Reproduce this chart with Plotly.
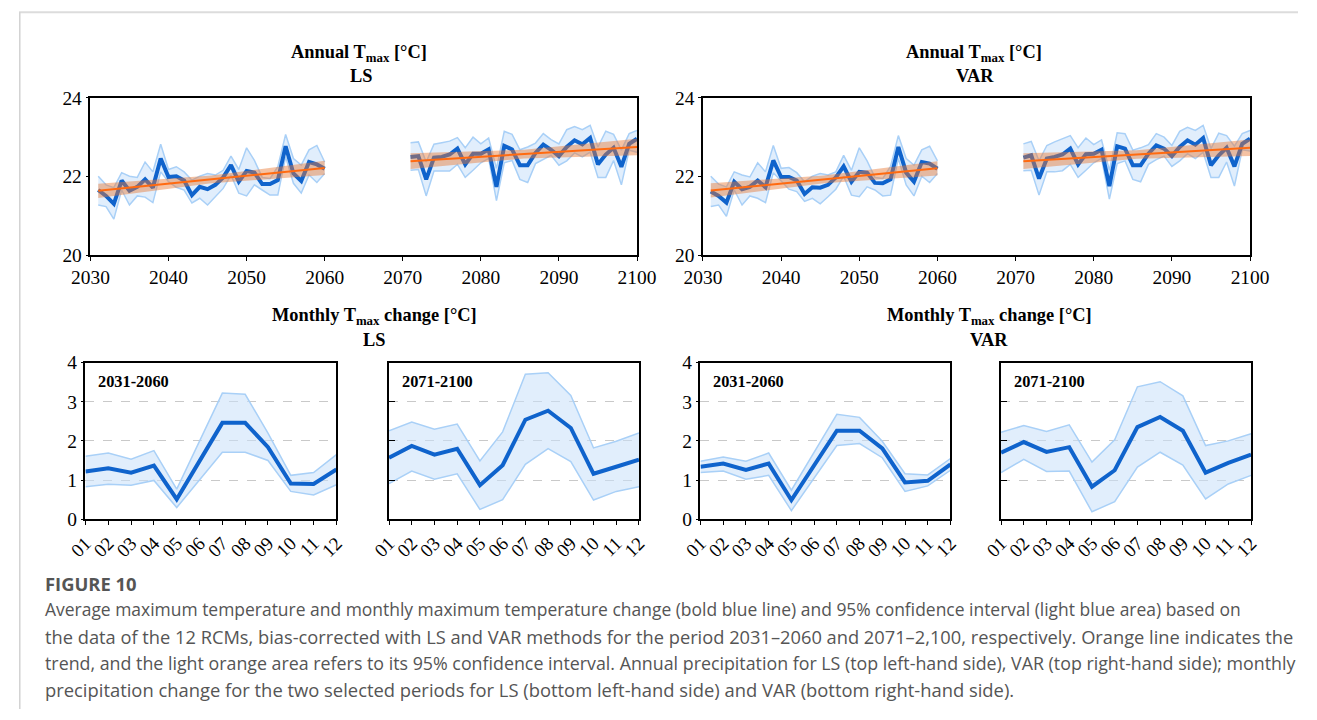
import plotly.graph_objects as go

W, H = 1317, 720

# ---------------- data ----------------
years_p1 = list(range(2031, 2061))
years_p2 = list(range(2071, 2101))

# Annual Tmax, LS bias correction
ls_mean_p1 = [21.66, 21.51, 21.31, 21.90, 21.64, 21.74, 21.93, 21.72, 22.46, 21.99,
              22.01, 21.90, 21.53, 21.74, 21.68, 21.79, 21.98, 22.29, 21.87, 22.14,
              22.10, 21.81, 21.81, 21.91, 22.77, 22.08, 21.89, 22.37, 22.31, 22.20]
ls_hi_p1 = [22.01, 21.79, 21.72, 22.10, 22.01, 21.98, 22.37, 22.12, 22.82, 22.18,
            22.25, 22.12, 21.91, 22.01, 22.08, 22.04, 22.16, 22.52, 22.18, 22.73,
            22.41, 21.98, 21.95, 22.25, 23.07, 22.46, 22.29, 22.68, 22.79, 22.37]
ls_lo_p1 = [21.28, 21.24, 20.92, 21.66, 21.28, 21.51, 21.48, 21.34, 22.12, 21.87,
            21.73, 21.66, 21.33, 21.45, 21.28, 21.49, 21.70, 22.04, 21.58, 21.51,
            21.79, 21.66, 21.53, 21.53, 22.50, 21.83, 21.58, 22.04, 21.85, 22.08]
ls_mean_p2 = [22.50, 22.52, 21.93, 22.48, 22.50, 22.56, 22.71, 22.31, 22.58, 22.58,
              22.69, 21.74, 22.78, 22.69, 22.29, 22.29, 22.60, 22.81, 22.68, 22.52,
              22.75, 22.92, 22.82, 22.98, 22.31, 22.56, 22.73, 22.25, 22.83, 22.96]
ls_hi_p2 = [22.86, 22.88, 22.37, 22.82, 22.86, 22.90, 22.99, 22.73, 23.00, 22.83,
            22.98, 22.21, 23.15, 23.07, 22.68, 22.75, 22.85, 23.09, 22.94, 22.83,
            23.19, 23.27, 23.19, 23.30, 22.75, 23.15, 23.07, 22.67, 23.09, 23.17]
ls_lo_p2 = [22.16, 22.18, 21.51, 22.14, 22.14, 22.14, 22.31, 21.98, 22.16, 22.35,
            22.46, 21.39, 22.35, 22.41, 21.93, 21.85, 22.33, 22.43, 22.54, 22.29,
            22.40, 22.60, 22.50, 22.62, 21.98, 21.98, 22.41, 21.79, 22.67, 22.62]

# Annual Tmax, VAR bias correction
var_mean_p1 = [21.62, 21.51, 21.34, 21.87, 21.68, 21.74, 21.90, 21.73, 22.41, 21.99,
               21.99, 21.90, 21.56, 21.73, 21.72, 21.79, 21.98, 22.26, 21.87, 22.12,
               22.10, 21.84, 21.83, 21.93, 22.75, 22.10, 21.87, 22.37, 22.33, 22.20]
var_hi_p1 = [22.01, 21.81, 21.74, 22.12, 22.04, 21.99, 22.35, 22.12, 22.79, 22.21,
             22.23, 22.10, 21.87, 22.01, 22.08, 22.04, 22.12, 22.54, 22.16, 22.73,
             22.40, 21.98, 21.95, 22.26, 23.04, 22.46, 22.29, 22.68, 22.77, 22.40]
var_lo_p1 = [21.24, 21.28, 20.99, 21.66, 21.28, 21.51, 21.45, 21.34, 22.10, 21.90,
             21.68, 21.62, 21.37, 21.45, 21.31, 21.49, 21.68, 22.01, 21.53, 21.49,
             21.74, 21.66, 21.51, 21.53, 22.46, 21.79, 21.51, 22.01, 21.85, 22.08]
var_mean_p2 = [22.48, 22.54, 21.95, 22.46, 22.50, 22.56, 22.71, 22.31, 22.57, 22.58,
               22.68, 21.76, 22.77, 22.71, 22.29, 22.29, 22.58, 22.79, 22.71, 22.52,
               22.75, 22.92, 22.81, 22.98, 22.29, 22.54, 22.73, 22.26, 22.83, 22.96]
var_hi_p2 = [22.83, 22.89, 22.40, 22.79, 22.88, 22.96, 23.04, 22.73, 22.98, 22.81,
             22.93, 22.16, 23.11, 23.09, 22.67, 22.73, 22.81, 23.09, 23.00, 22.79,
             23.15, 23.25, 23.17, 23.30, 22.71, 23.10, 23.04, 22.77, 23.09, 23.17]
var_lo_p2 = [22.15, 22.16, 21.53, 22.12, 22.12, 22.15, 22.31, 21.98, 22.16, 22.35,
             22.46, 21.43, 22.33, 22.40, 21.93, 21.87, 22.31, 22.43, 22.52, 22.26,
             22.40, 22.58, 22.46, 22.62, 21.98, 21.98, 22.37, 21.76, 22.68, 22.65]

# Linear trend and its 95% band (start, middle, end of each period)
trend_x_p1 = [2031, 2045.5, 2060]
trend_x_p2 = [2071, 2085.5, 2100]
ls_trend_p1 = [21.64, 21.93, 22.22]
ls_trend_lo_p1 = [21.46, 21.83, 22.04]
ls_trend_hi_p1 = [21.82, 22.03, 22.40]
ls_trend_p2 = [22.39, 22.57, 22.75]
ls_trend_lo_p2 = [22.19, 22.46, 22.54]
ls_trend_hi_p2 = [22.59, 22.68, 22.96]
var_trend_p1 = [21.65, 21.93, 22.21]
var_trend_lo_p1 = [21.47, 21.83, 22.03]
var_trend_hi_p1 = [21.83, 22.03, 22.39]
var_trend_p2 = [22.39, 22.56, 22.73]
var_trend_lo_p2 = [22.19, 22.45, 22.52]
var_trend_hi_p2 = [22.59, 22.67, 22.94]

# Monthly Tmax change
months = ["01", "02", "03", "04", "05", "06", "07", "08", "09", "10", "11", "12"]
ls_m1_mean = [1.22, 1.30, 1.19, 1.37, 0.51, 1.49, 2.46, 2.46, 1.84, 0.91, 0.90, 1.27]
ls_m1_hi = [1.61, 1.69, 1.53, 1.75, 0.77, 2.00, 3.22, 3.19, 2.20, 1.12, 1.19, 1.65]
ls_m1_lo = [0.83, 0.89, 0.87, 0.99, 0.30, 1.01, 1.71, 1.71, 1.50, 0.71, 0.62, 0.88]
ls_m2_mean = [1.57, 1.87, 1.65, 1.80, 0.87, 1.38, 2.54, 2.77, 2.33, 1.16, 1.34, 1.52]
ls_m2_hi = [2.26, 2.48, 2.30, 2.43, 1.49, 2.23, 3.70, 3.74, 3.16, 1.82, 1.99, 2.20]
ls_m2_lo = [0.91, 1.23, 1.02, 1.16, 0.25, 0.50, 1.40, 1.80, 1.47, 0.49, 0.71, 0.83]
var_m1_mean = [1.34, 1.42, 1.26, 1.42, 0.49, 1.39, 2.26, 2.26, 1.81, 0.94, 0.98, 1.40]
var_m1_hi = [1.48, 1.59, 1.48, 1.69, 0.74, 1.71, 2.68, 2.60, 1.99, 1.16, 1.13, 1.55]
var_m1_lo = [1.19, 1.23, 1.02, 1.12, 0.22, 1.05, 1.88, 1.93, 1.57, 0.71, 0.85, 1.25]
var_m2_mean = [1.70, 1.97, 1.72, 1.84, 0.83, 1.25, 2.35, 2.61, 2.26, 1.19, 1.44, 1.65]
var_m2_hi = [2.22, 2.39, 2.24, 2.41, 1.46, 2.03, 3.38, 3.51, 3.15, 1.88, 2.00, 2.18]
var_m2_lo = [1.19, 1.53, 1.22, 1.23, 0.19, 0.45, 1.33, 1.71, 1.38, 0.52, 0.90, 1.12]

# ---------------- styling ----------------
BLUE = "#0f63cc"
BAND_EDGE = "#a9d0f7"
BAND_FILL = "rgba(200,224,250,0.55)"
ORANGE = "#ff6a10"
ORANGE_FILL = "rgba(232,120,50,0.45)"
SERIF = "Liberation Serif"
SANS = "Open Sans"

# positions below are given on a 1317x720 design grid; the page frame maps that
# grid with a small inset, so positions and font sizes go through these helpers
S, OX, OY = 0.979, 12.0, 8.5


def fx(v):
    return (v - OX) / S / W


def fy(v):
    return 1 - (v - OY) / S / H


def fs(size):
    return round(size / S, 2)


def dom_x(a, b):
    return [fx(a), fx(b)]


def dom_y(top, bottom):
    return [fy(bottom), fy(top)]


fig = go.Figure()


def add_band(x, lo, hi, xa, ya):
    fig.add_trace(go.Scatter(x=x, y=lo, mode="lines", line=dict(color=BAND_EDGE, width=1.5),
                             xaxis=xa, yaxis=ya, showlegend=False, hoverinfo="skip"))
    fig.add_trace(go.Scatter(x=x, y=hi, mode="lines", line=dict(color=BAND_EDGE, width=1.5),
                             fill="tonexty", fillcolor=BAND_FILL,
                             xaxis=xa, yaxis=ya, showlegend=False, hoverinfo="skip"))


def add_mean(x, y, xa, ya):
    fig.add_trace(go.Scatter(x=x, y=y, mode="lines", line=dict(color=BLUE, width=4),
                             xaxis=xa, yaxis=ya, showlegend=False))


def add_trend(x, c, lo, hi, xa, ya):
    fig.add_trace(go.Scatter(x=x, y=lo, mode="lines", line=dict(width=0),
                             xaxis=xa, yaxis=ya, showlegend=False, hoverinfo="skip"))
    fig.add_trace(go.Scatter(x=x, y=hi, mode="lines", line=dict(width=0),
                             fill="tonexty", fillcolor=ORANGE_FILL,
                             xaxis=xa, yaxis=ya, showlegend=False, hoverinfo="skip"))
    fig.add_trace(go.Scatter(x=x, y=c, mode="lines", line=dict(color=ORANGE, width=2),
                             xaxis=xa, yaxis=ya, showlegend=False))


# annual panels
annual = [
    ("x", "y", (ls_lo_p1, ls_hi_p1, ls_mean_p1, ls_trend_p1, ls_trend_lo_p1, ls_trend_hi_p1),
     (ls_lo_p2, ls_hi_p2, ls_mean_p2, ls_trend_p2, ls_trend_lo_p2, ls_trend_hi_p2)),
    ("x2", "y2", (var_lo_p1, var_hi_p1, var_mean_p1, var_trend_p1, var_trend_lo_p1, var_trend_hi_p1),
     (var_lo_p2, var_hi_p2, var_mean_p2, var_trend_p2, var_trend_lo_p2, var_trend_hi_p2)),
]
for xa, ya, p1, p2 in annual:
    for yrs, tx, (lo, hi, mean, tr, tlo, thi) in ((years_p1, trend_x_p1, p1), (years_p2, trend_x_p2, p2)):
        add_band(yrs, lo, hi, xa, ya)
        add_mean(yrs, mean, xa, ya)
        add_trend(tx, tr, tlo, thi, xa, ya)

# monthly panels
monthly = [
    ("x3", "y3", ls_m1_lo, ls_m1_hi, ls_m1_mean),
    ("x4", "y4", ls_m2_lo, ls_m2_hi, ls_m2_mean),
    ("x5", "y5", var_m1_lo, var_m1_hi, var_m1_mean),
    ("x6", "y6", var_m2_lo, var_m2_hi, var_m2_mean),
]
for xa, ya, lo, hi, mean in monthly:
    add_band(months, lo, hi, xa, ya)
    add_mean(months, mean, xa, ya)

frame = dict(showline=True, mirror=True, linecolor="black", linewidth=1.5,
             zeroline=False, color="black")
tick_font = dict(family=SERIF, size=fs(19), color="black")

layout = dict(
    width=W, height=H, margin=dict(l=0, r=0, t=0, b=0),
    paper_bgcolor="white", plot_bgcolor="white", showlegend=False,
)

top_x = dict(range=[2030, 2100], tickvals=[2030, 2040, 2050, 2060, 2070, 2080, 2090, 2100],
             ticks="outside", ticklen=4, tickfont=tick_font, showgrid=False, **frame)
top_y = dict(range=[20, 24], tickvals=[20, 22, 24], ticks="outside", ticklen=3,
             tickfont=tick_font, showgrid=False, **frame)

layout["xaxis"] = dict(domain=dom_x(84, 635), anchor="y", **top_x)
layout["yaxis"] = dict(domain=dom_y(97, 256), anchor="x", **top_y)
layout["xaxis2"] = dict(domain=dom_x(701.5, 1253), anchor="y2", **top_x)
layout["yaxis2"] = dict(domain=dom_y(97, 256), anchor="x2", **top_y)

month_x = dict(type="category", range=[0, 11], tickangle=-45, ticks="outside", ticklen=4,
               tickmode="array", tickvals=months, ticktext=months,
               tickfont=dict(family=SERIF, size=fs(18.5), color="black"), showgrid=False, **frame)
bottom_dom = dom_y(364, 522)
cols = [(79, 332), (385, 637), (699, 951), (1002, 1254)]
for i, (a, b) in enumerate(cols):
    n = i + 3
    layout[f"xaxis{n}"] = dict(domain=dom_x(a, b), anchor=f"y{n}", **month_x)
    first = i % 2 == 0
    layout[f"yaxis{n}"] = dict(
        domain=bottom_dom, anchor=f"x{n}", range=[0, 4], tickvals=[0, 1, 2, 3, 4],
        ticks="outside" if first else "inside", ticklen=3 if first else 6,
        showticklabels=first, tickfont=tick_font,
        showgrid=True, gridcolor="#c9c9c9", griddash="dash", gridwidth=1, **frame)

fig.update_layout(**layout)

# panel titles
title_font = dict(family=SERIF, size=fs(18), color="black")
titles = [
    (355, 52, "<b>Annual T<sub>max</sub> [°C]</b>"), (357, 75, "<b>LS</b>"),
    (975, 52, "<b>Annual T<sub>max</sub> [°C]</b>"), (976, 75, "<b>VAR</b>"),
    (370, 318, "<b>Monthly T<sub>max</sub> change [°C]</b>"), (370, 341, "<b>LS</b>"),
    (990, 318, "<b>Monthly T<sub>max</sub> change [°C]</b>"), (990, 341, "<b>VAR</b>"),
]
for x, y, t in titles:
    fig.add_annotation(x=fx(x), y=fy(y), xref="paper", yref="paper", text=t,
                       showarrow=False, xanchor="center", yanchor="middle", font=title_font)

period_labels = [(90, "2031-2060"), (396, "2071-2100"), (710, "2031-2060"), (1013, "2071-2100")]
for x, t in period_labels:
    fig.add_annotation(x=fx(x), y=fy(383), xref="paper", yref="paper", text=f"<b>{t}</b>",
                       showarrow=False, xanchor="left", yanchor="middle",
                       font=dict(family=SERIF, size=fs(16), color="black"))

# caption
fig.add_annotation(x=fx(36), y=fy(587), xref="paper", yref="paper", text="<b>FIGURE 10</b>",
                   showarrow=False, xanchor="left", yanchor="middle",
                   font=dict(family=SANS, size=fs(18), color="#555555"))
caption_lines = [
    "Average maximum temperature and monthly maximum temperature change (bold blue line) and 95% confidence interval (light blue area) based on",
    "the data of the 12 RCMs, bias-corrected with LS and VAR methods for the period 2031–2060 and 2071–2,100, respectively. Orange line indicates the",
    "trend, and the light orange area refers to its 95% confidence interval. Annual precipitation for LS (top left-hand side), VAR (top right-hand side); monthly",
    "precipitation change for the two selected periods for LS (bottom left-hand side) and VAR (bottom right-hand side).",
]
caption_sizes = [17.1, 17.9, 17.45, 18.0]
for k, (line, size) in enumerate(zip(caption_lines, caption_sizes)):
    fig.add_annotation(x=fx(36), y=fy(613 + 27 * k), xref="paper", yref="paper", text=line,
                       showarrow=False, xanchor="left", yanchor="middle",
                       font=dict(family=SANS, size=fs(size), color="#555555"))

# card border
fig.add_shape(type="line", xref="paper", yref="paper", x0=0, x1=1, y0=fy(10.7), y1=fy(10.7),
              line=dict(color="#dcdcdc", width=2))
fig.add_shape(type="line", xref="paper", yref="paper", x0=0.8 / W, x1=0.8 / W, y0=0, y1=fy(10.7),
              line=dict(color="#d2d2d2", width=1.5))

fig.write_html("out.html")
